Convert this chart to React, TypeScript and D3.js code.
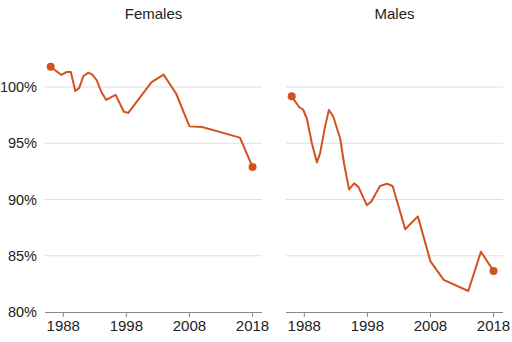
import React from "react";
import * as d3 from "d3";

const femaleYears = [1986, 1987.7, 1988.5, 1989.2, 1989.9, 1990.5, 1991.2, 1992, 1992.6, 1993.3, 1994, 1994.8, 1996.3, 1997.6, 1998.3, 2002, 2003.9, 2005.9, 2008, 2010, 2016, 2018];
const femaleValues = [101.8, 101.07, 101.33, 101.33, 99.64, 99.9, 100.98, 101.27, 101.1, 100.6, 99.6, 98.85, 99.3, 97.8, 97.7, 100.44, 101.1, 99.4, 96.5, 96.44, 95.5, 92.9];

const maleYears = [1986, 1987.2, 1987.8, 1988.4, 1989.2, 1990, 1990.5, 1991.3, 1991.9, 1992.6, 1993.7, 1994.3, 1995.1, 1995.9, 1996.6, 1997.9, 1998.6, 2000, 2001.1, 2002, 2004, 2006, 2008, 2010.1, 2014, 2016, 2018];
const maleValues = [99.17, 98.2, 98.0, 97.2, 95.0, 93.3, 94.1, 96.5, 97.96, 97.36, 95.4, 93.2, 90.9, 91.44, 91.1, 89.5, 89.8, 91.2, 91.4, 91.2, 87.35, 88.5, 84.5, 82.85, 81.87, 85.36, 83.64];

const panelTitles = ["Females", "Males"];
const yTicks = [80, 85, 90, 95, 100];
const xTicks = [1988, 1998, 2008, 2018];

const W = 512;
const H = 342;
const COLOR = "#d4521f";
const FONT = "Liberation Sans, Arial, Helvetica, sans-serif";

const panels = [
  { title: panelTitles[0], years: femaleYears, values: femaleValues, x0: 45, x1: 262 },
  { title: panelTitles[1], years: maleYears, values: maleValues, x0: 286, x1: 503 },
];

const y = d3.scaleLinear().domain([80, 104]).range([312, 42]);

export default function App() {
  return (
    <svg width={W} height={H} style={{ position: "absolute", left: 0, top: 0, background: "#fff" }} fontFamily={FONT}>
      {yTicks.map((t) => (
        <text key={t} x={37} y={y(t)} dy="0.35em" textAnchor="end" fontSize={14.5} fill="#222">
          {t}%
        </text>
      ))}
      {panels.map((p, i) => {
        const x = d3.scaleLinear().domain([1985.1, 2019.5]).range([p.x0, p.x1]);
        const pts = p.years.map((yr, k) => [yr, p.values[k]] as [number, number]);
        const line = d3
          .line<[number, number]>()
          .x((d) => x(d[0]))
          .y((d) => y(d[1]));
        const first = pts[0];
        const last = pts[pts.length - 1];
        return (
          <g key={i}>
            <text x={(p.x0 + p.x1) / 2} y={19} textAnchor="middle" fontSize={15} fill="#222">
              {p.title}
            </text>
            {yTicks
              .filter((t) => t > 80)
              .map((t) => (
                <line key={t} x1={p.x0} x2={p.x1} y1={y(t)} y2={y(t)} stroke="#e0e0e0" strokeWidth={1} />
              ))}
            <line x1={p.x0} x2={p.x1} y1={y(80) + 0.5} y2={y(80) + 0.5} stroke="#888" strokeWidth={1} />
            {xTicks.map((t) => (
              <g key={t}>
                <line x1={x(t)} x2={x(t)} y1={y(80)} y2={y(80) + 5} stroke="#888" strokeWidth={1} />
                <text x={x(t)} y={y(80) + 18.5} textAnchor="middle" fontSize={15} fill="#222">
                  {t}
                </text>
              </g>
            ))}
            <path d={line(pts) || ""} fill="none" stroke={COLOR} strokeWidth={2} strokeLinejoin="round" />
            <circle cx={x(first[0])} cy={y(first[1])} r={4} fill={COLOR} />
            <circle cx={x(last[0])} cy={y(last[1])} r={4} fill={COLOR} />
          </g>
        );
      })}
    </svg>
  );
}
